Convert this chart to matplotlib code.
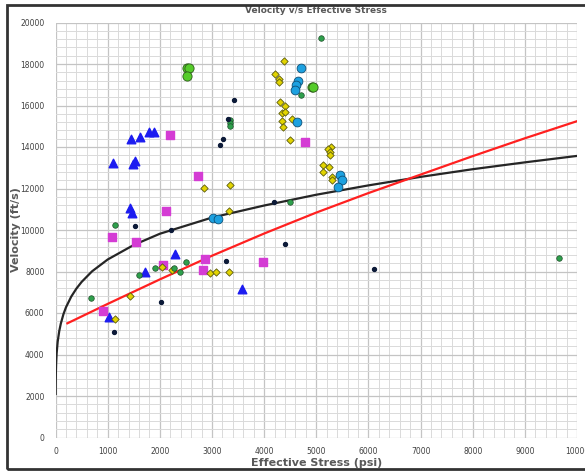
import matplotlib
matplotlib.use("Agg")
import matplotlib.pyplot as plt
from matplotlib.patches import Rectangle
from matplotlib.ticker import MultipleLocator

# --- data (stress in psi, velocity in ft/s) ---
blue_tri_x = [1100, 1485, 1524, 1428, 1472, 2282, 1717, 3573, 1016, 1447, 1620, 1794, 1883]
blue_tri_y = [13243, 13180, 13340, 11045, 10804, 8828, 7990, 7142, 5792, 14370, 14481, 14722, 14722]

pink_sq_x = [2725, 2121, 1074, 1536, 2057, 2866, 2821, 3971, 915, 2185, 4787]
pink_sq_y = [12617, 10930, 9677, 9421, 8328, 8602, 8072, 8472, 6096, 14563, 14255]

yellow_x = [2847, 3341, 3322, 1421, 1145, 2044, 2230, 2969, 3085, 3328,
            4376, 4209, 4292, 4292, 4299, 4408, 4344, 4401, 4350, 4357, 4543, 4498,
            5288, 5224, 5256, 5262, 5134, 5243, 5128, 5301, 5301]
yellow_y = [12023, 12153, 10930, 6819, 5725, 8232, 8072, 7913, 7961, 7975,
            18129, 17533, 17261, 17117, 16168, 15975, 15653, 15686, 15252, 14978, 15334, 14337,
            13999, 13888, 13744, 13599, 13146, 13050, 12809, 12539, 12394]

green_x = [1145, 682, 1607, 1910, 2268, 2378, 2507, 4491, 9655, 5083, 4710, 3342, 3342, 3350]
green_y = [10256, 6722, 7816, 8183, 8153, 7990, 8443, 11363, 8665, 19252, 16520, 15300, 15150, 15000]

navy_x = [1524, 2205, 2012, 3270, 4195, 4408, 6116, 1122, 3412, 3297, 3207, 3156]
navy_y = [10177, 9999, 6515, 8520, 11331, 9325, 8105, 5070, 16264, 15363, 14400, 14111]

lime_x = [2513, 2557, 2513, 4915, 4935]
lime_y = [17821, 17821, 17406, 16876, 16900]

cyan_x = [4703, 4645, 4613, 4588, 4633, 5455, 5500, 5416, 3014, 3110]
cyan_y = [17821, 17180, 16973, 16746, 15219, 12635, 12409, 12057, 10562, 10514]

# trend curves, points
black_x = [0.6, 2, 5, 10, 20, 40, 70, 100, 150, 200, 300, 400, 500, 700, 1000,
           1500, 2000, 3000, 4000, 5000, 6000, 7000, 8000, 9000, 10000]
black_y = [2100, 2600, 3100, 3550, 4050, 4620, 5130, 5490, 5940, 6280, 6790, 7180, 7500, 8010, 8580,
           9280, 9820, 10600, 11180, 11700, 12150, 12560, 12930, 13260, 13570]

red_x = [226, 1000, 2000, 3000, 4000, 5000, 6000, 7000, 8000, 9000, 10028]
red_y = [5503, 6440, 7620, 8760, 9830, 10840, 11780, 12670, 13560, 14420, 15267]

NARROW = ["Liberation Sans Narrow", "DejaVu Sans"]
GREY = "#595959"

fig = plt.figure(figsize=(5.85, 4.72), dpi=100)
ax = fig.add_axes([55.6 / 585, 34.5 / 472, (577 - 55.6) / 585, (437.5 - 22.5) / 472])

ax.set_xlim(0, 10000)
ax.set_ylim(0, 20000)
ax.xaxis.set_major_locator(MultipleLocator(1000))
ax.xaxis.set_minor_locator(MultipleLocator(200))
ax.yaxis.set_major_locator(MultipleLocator(2000))
ax.yaxis.set_minor_locator(MultipleLocator(400))
ax.grid(which="major", color="#c4c4c4", lw=0.9)
ax.grid(which="minor", color="#dadada", lw=0.7)
ax.set_axisbelow(True)
for s in ax.spines.values():
    s.set_visible(False)
ax.tick_params(which="both", length=0, labelsize=5.5, labelcolor="#404040")
ax.tick_params(axis="y", pad=8)
ax.tick_params(axis="x", pad=7)
for lab in ax.get_xticklabels() + ax.get_yticklabels():
    lab.set_family(NARROW)

ax.plot(black_x, black_y, color="#262626", lw=1.6, zorder=3)
ax.plot(red_x, red_y, color="#ff2020", lw=1.6, zorder=3)

ax.scatter(blue_tri_x, blue_tri_y, marker="^", s=38, color="#1c1cf0", zorder=4)
ax.scatter(pink_sq_x, pink_sq_y, marker="s", s=28, color="#d43cd4", zorder=4)
ax.scatter(yellow_x, yellow_y, marker="D", s=14, color="#e2d400", edgecolor="#5a5a10", lw=0.6, zorder=4)
ax.scatter(green_x, green_y, marker="o", s=16, color="#2ea04c", edgecolor="#1f4d2a", lw=0.5, zorder=4)
ax.scatter(navy_x, navy_y, marker="o", s=8, color="#0c1a38", zorder=4)
ax.scatter(lime_x, lime_y, marker="o", s=44, color="#55cc2a", edgecolor="#2c5a1a", lw=0.6, zorder=4)
ax.scatter(cyan_x, cyan_y, marker="o", s=40, color="#1da1e0", edgecolor="#0d4f76", lw=0.6, zorder=4)

ax.text(0.5, 1 + 11.5 / 415, "Velocity v/s Effective Stress", transform=ax.transAxes,
        ha="center", va="center", fontsize=6.5, fontweight="bold", color=GREY, family=NARROW)
ax.set_xlabel("Effective Stress (psi)", fontsize=8, fontweight="bold", color=GREY, family=NARROW)
ax.set_ylabel("Velocity (ft/s)", fontsize=8, fontweight="bold", color=GREY, family=NARROW)
ax.xaxis.set_label_coords(0.5, (437.5 - 463) / 415)
ax.xaxis.label.set_va("center")
ax.yaxis.set_label_coords((16 - 55.6) / 521.4, 0.5)
ax.yaxis.label.set_va("center")

fig.add_artist(Rectangle((7 / 585, 3 / 472), 1.0, 1 - 8 / 472, transform=fig.transFigure,
                         fill=False, ec="#333333", lw=2))

fig.savefig("out.png", dpi=100)
